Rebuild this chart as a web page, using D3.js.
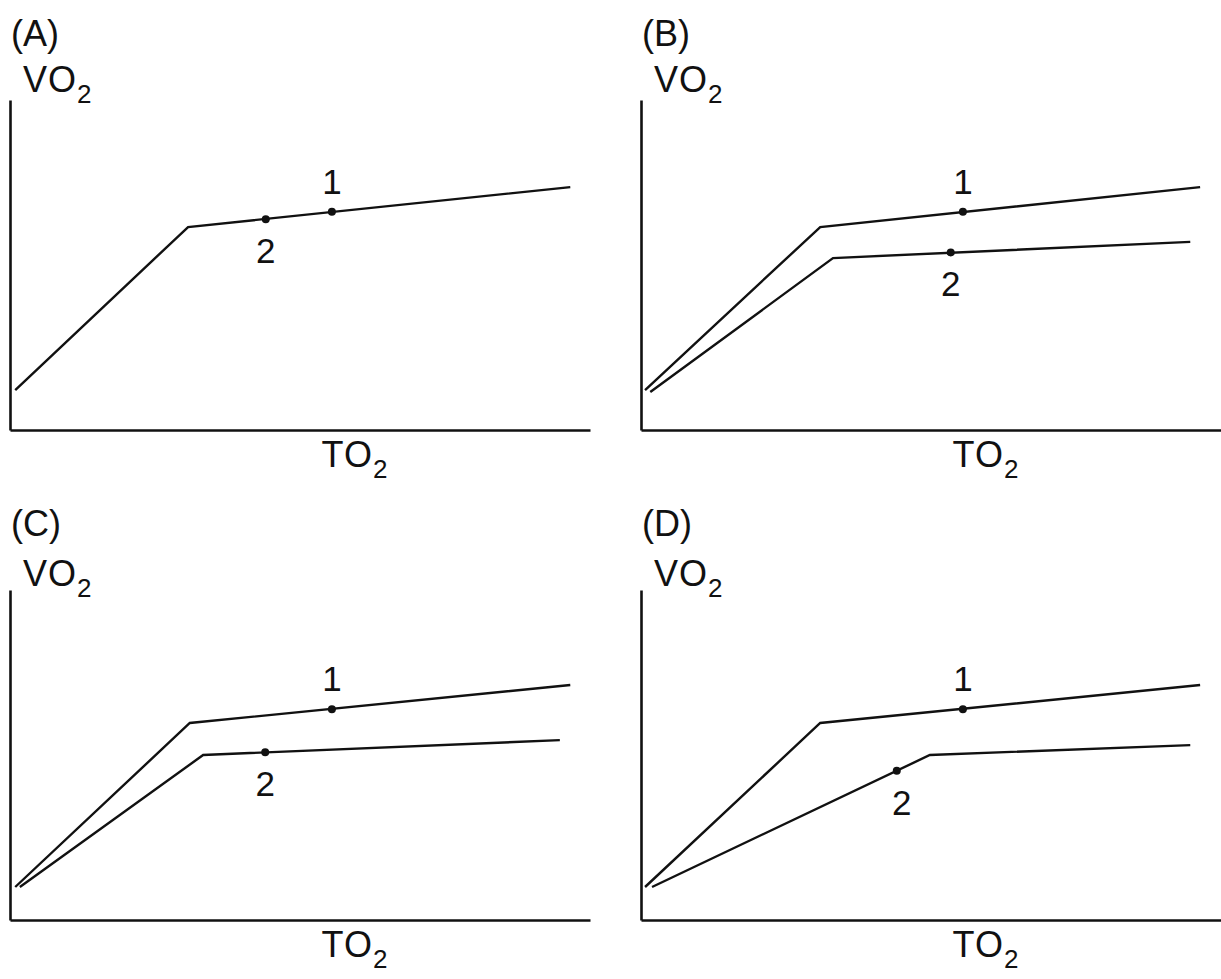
<!DOCTYPE html>
<html>
<head>
<meta charset="utf-8">
<script src="https://cdn.jsdelivr.net/npm/d3@7"></script>
<style>
  body { margin: 0; background: #fff; }
  svg text { font-family: "Liberation Sans", Arial, sans-serif; fill: #111; }
</style>
</head>
<body>
<svg id="chart" width="1221" height="979"></svg>
<script>
// panel letters
var panelNames = ["(A)", "(B)", "(C)", "(D)"]

// curve 1 per panel: [TO2, VO2] in arbitrary units (0-100)
var curve1 = [
    [[0.9, 12.1], [30.7, 61.5], [96.6, 73.6]],
    [[0.7, 12.1], [30.9, 61.5], [96.4, 73.6]],
    [[0.9, 10.0], [31.0, 59.7], [96.6, 71.2]],
    [[0.7, 10.0], [30.9, 59.7], [96.4, 71.2]]
]

// curve 2 per panel (panel A has only one line)
var curve2 = [
    null,
    [[1.6, 11.5], [33.1, 52.1], [94.7, 57.0]],
    [[1.7, 10.0], [33.3, 50.0], [94.8, 54.5]],
    [[1.9, 10.0], [49.8, 50.0], [94.7, 53.0]]
]

// marked points 1 and 2
var point1 = [[55.5, 66.1], [55.5, 66.1], [55.5, 63.9], [55.5, 63.9]]
var point2 = [[44.1, 63.9], [53.4, 53.8], [44.0, 50.8], [44.1, 45.2]]

var svg = d3.select("#chart")

var W = 580, H = 330
var origins = [[10, 430], [641, 430], [10, 920], [641, 920]]

var x = d3.scaleLinear().domain([0, 100]).range([0, W])
var y = d3.scaleLinear().domain([0, 100]).range([0, -H])

var line = d3.line()
    .x(function (d) { return x(d[0]) })
    .y(function (d) { return y(d[1]) })

panelNames.forEach(function (name, i) {
    var g = svg.append("g")
        .attr("transform", "translate(" + origins[i][0] + "," + origins[i][1] + ")")

    // axes: plain lines, no ticks
    g.append("g")
        .call(d3.axisBottom(x).ticks(0).tickSizeOuter(0))
        .select(".domain").attr("stroke", "#111").attr("stroke-width", 2.6)
    g.append("g")
        .call(d3.axisLeft(y).ticks(0).tickSizeOuter(0))
        .select(".domain").attr("stroke", "#111").attr("stroke-width", 2.6)

    g.append("path")
        .attr("d", line(curve1[i]))
        .attr("fill", "none")
        .attr("stroke", "#111")
        .attr("stroke-width", 2.4)

    if (curve2[i]) {
        g.append("path")
            .attr("d", line(curve2[i]))
            .attr("fill", "none")
            .attr("stroke", "#111")
            .attr("stroke-width", 2.4)
    }

    var pts = [{ p: point1[i], lab: "1", dy: -18, dx: 0 }, { p: point2[i], lab: "2", dy: 44, dx: i == 3 ? 5 : 0 }]
    pts.forEach(function (d) {
        g.append("circle")
            .attr("cx", x(d.p[0]))
            .attr("cy", y(d.p[1]))
            .attr("r", 4)
            .attr("fill", "#111")
        g.append("text")
            .attr("x", x(d.p[0]) + d.dx)
            .attr("y", y(d.p[1]) + d.dy)
            .attr("text-anchor", "middle")
            .attr("font-size", 35)
            .text(d.lab)
    })

    // panel letter
    g.append("text")
        .attr("x", 1)
        .attr("y", -384)
        .attr("font-size", 36)
        .text(name)

    // y title VO2
    var vt = g.append("text")
        .attr("x", 13)
        .attr("y", i < 2 ? -338 : -334)
        .attr("font-size", 36)
        .attr("letter-spacing", 1)
    vt.append("tspan").text("VO")
    vt.append("tspan").attr("font-size", 26).attr("dy", 11).text("2")

    // x title TO2
    var xt = g.append("text")
        .attr("x", 345)
        .attr("y", 37)
        .attr("text-anchor", "middle")
        .attr("font-size", 36)
        .attr("letter-spacing", 1)
    xt.append("tspan").text("TO")
    xt.append("tspan").attr("font-size", 26).attr("dy", 11).text("2")
})
</script>
</body>
</html>
